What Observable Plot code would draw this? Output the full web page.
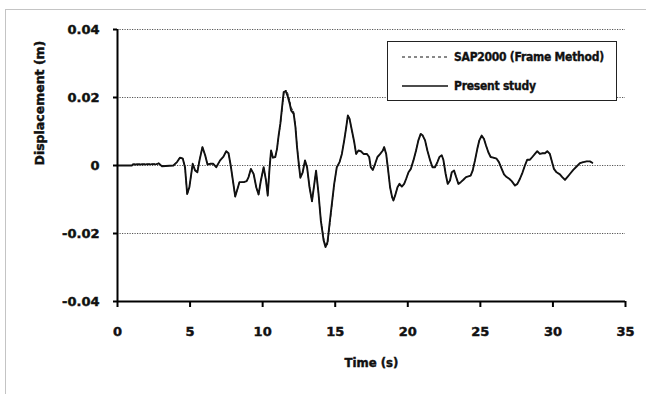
<!DOCTYPE html>
<html>
<head>
<meta charset="utf-8">
<script src="https://cdn.jsdelivr.net/npm/d3@7"></script>
<script src="https://cdn.jsdelivr.net/npm/@observablehq/plot@0.6"></script>
<style>
  html, body { margin: 0; padding: 0; background: #fff; }
  #wrap { position: relative; width: 646px; height: 394px; overflow: hidden; }
  #frame { position: absolute; left: 5px; top: 9px; right: -2px; bottom: -2px; border-top: 1px solid #c4c4c4; border-left: 1px solid #c4c4c4; }
  #chart { position: absolute; left: 0; top: 0; }
  #chart svg text { stroke: #111; stroke-width: 0.45px; }
  #legend { position: absolute; left: 387px; top: 41px; width: 228px; height: 58px; border: 1.5px solid #222; background: #fff;
            font-family: "DejaVu Sans Condensed", "DejaVu Sans", sans-serif; font-weight: bold; font-size: 12px; color: #111; letter-spacing: -0.25px;
            -webkit-text-stroke: 0.35px #111; }
  .row { position: absolute; left: 14px; height: 16px; display: flex; align-items: center; }
  .row svg { margin-right: 6px; }
</style>
</head>
<body>
<div id="wrap">
  <div id="frame"></div>
  <div id="chart"></div>
  <div id="legend">
    <div class="row" style="top:7px"><svg width="46" height="6"><line x1="0" y1="3" x2="46" y2="3" stroke="#111" stroke-width="1" stroke-dasharray="3,3"/></svg><span id="lg1"></span></div>
    <div class="row" style="top:36px"><svg width="46" height="6"><line x1="0" y1="3" x2="46" y2="3" stroke="#111" stroke-width="1.3"/></svg><span id="lg2"></span></div>
  </div>
</div>
<script>
const seriesNames = ["SAP2000 (Frame Method)", "Present study"];
const xTicks = [0, 5, 10, 15, 20, 25, 30, 35];
const yTicks = [-0.04, -0.02, 0, 0.02, 0.04];
const gridValues = [-0.02, 0, 0.02, 0.04];

const time = [
  0, 1.0, 1.05, 2.7, 2.85, 3.05, 3.85, 4.1, 4.3, 4.5,
  4.65, 4.8, 4.95, 5.18, 5.35, 5.5, 5.65, 5.85, 6.04, 6.2,
  6.38, 6.6, 6.8, 7.07, 7.3, 7.49, 7.65, 7.8, 7.95, 8.11,
  8.3, 8.4, 8.7, 8.9, 9.03, 9.19, 9.38, 9.56, 9.72, 9.88,
  10.07, 10.23, 10.35, 10.48, 10.58, 10.71, 10.87, 10.99, 11.1, 11.22,
  11.34, 11.45, 11.59, 11.73, 11.87, 11.96, 12.14, 12.26, 12.37, 12.49,
  12.6, 12.76, 12.92, 13.06, 13.23, 13.4, 13.56, 13.68, 13.85, 14.01,
  14.2, 14.33, 14.47, 14.61, 14.77, 14.93, 15.11, 15.3, 15.46, 15.62,
  15.76, 15.87, 15.99, 16.15, 16.31, 16.44, 16.6, 16.77, 16.95, 17.18,
  17.34, 17.45, 17.59, 17.75, 17.91, 18.1, 18.28, 18.37, 18.51, 18.65,
  18.78, 18.92, 19.01, 19.13, 19.29, 19.43, 19.59, 19.75, 19.89, 20.05,
  20.21, 20.39, 20.57, 20.73, 20.89, 21.03, 21.19, 21.35, 21.54, 21.7,
  21.88, 22.04, 22.18, 22.34, 22.45, 22.61, 22.75, 22.91, 23.03, 23.19,
  23.33, 23.49, 23.65, 23.83, 24.01, 24.17, 24.33, 24.47, 24.63, 24.79,
  24.93, 25.09, 25.25, 25.39, 25.55, 25.71, 25.89, 26.12, 26.28, 26.47,
  26.63, 26.81, 26.99, 27.16, 27.39, 27.55, 27.73, 27.91, 28.07, 28.23,
  28.42, 28.58, 28.76, 28.92, 29.1, 29.29, 29.45, 29.61, 29.79, 29.91,
  30.07, 30.25, 30.48, 30.64, 30.83, 30.99, 31.17, 31.4, 31.63, 31.86,
  32.09, 32.32, 32.55, 32.71
];

const presentStudy = [
  0, 0, 0.0003, 0.0004, 0.0006, -0.0002, 0, 0.001, 0.0023, 0.002,
  -0.0005, -0.0083, -0.0064, 0.0005, -0.0015, -0.002, 0.0015, 0.0054, 0.003, 0.0003,
  0.0005, 0.0005, -0.0005, 0.0015, 0.0026, 0.0042, 0.0036, 0, -0.0044, -0.0091,
  -0.0064, -0.0049, -0.0049, -0.0046, -0.0034, -0.001, -0.0025, -0.0064, -0.0085, -0.0044,
  -0.0005, -0.0044, -0.0088, -0.0005, 0.0044, 0.0023, 0.0025, 0.0049, 0.0088, 0.0123,
  0.0172, 0.0216, 0.0219, 0.0203, 0.0181, 0.0162, 0.0152, 0.0113, 0.0054, 0.0005,
  -0.0036, -0.002, 0.0015, -0.0005, -0.0064, -0.0105, -0.0054, -0.0015, -0.0083, -0.0162,
  -0.022, -0.024, -0.0225, -0.0172, -0.0113, -0.0054, -0.0005, 0.001, 0.0034, 0.0074,
  0.0113, 0.0147, 0.0137, 0.0103, 0.0069, 0.0034, 0.0044, 0.0042, 0.0034, 0.0034,
  0.0025, -0.0005, -0.0013, 0.0005, 0.0025, 0.0034, 0.0044, 0.0054, 0.0034, -0.0015,
  -0.0064, -0.0093, -0.0103, -0.0088, -0.0064, -0.0054, -0.0062, -0.0054, -0.0039, -0.002,
  -0.001, 0.0015, 0.0044, 0.0074, 0.0093, 0.0088, 0.0074, 0.0044, 0.0015, -0.0005,
  -0.0005, 0.001, 0.0025, 0.003, 0.0017, -0.0025, -0.0054, -0.0044, -0.002, -0.0015,
  -0.0034, -0.0054, -0.0049, -0.0042, -0.0034, -0.0032, -0.003, -0.0015, 0.0015, 0.0049,
  0.0074, 0.0088, 0.0078, 0.0059, 0.0039, 0.0025, 0.0023, 0.002, 0.001, -0.001,
  -0.0026, -0.0034, -0.0039, -0.0046, -0.0059, -0.0054, -0.0039, -0.002, 0, 0.0017,
  0.0017, 0.0025, 0.0034, 0.0042, 0.0034, 0.0036, 0.0036, 0.0042, 0.0034, 0.0015,
  -0.001, -0.002, -0.0026, -0.0034, -0.0042, -0.0034, -0.0025, -0.0013, -0.0003, 0.0007,
  0.001, 0.0012, 0.0012, 0.0008
];

const sap2000 = [
  0, 0, 0.0004, 0.0005, 0.0007, -0.0001, 0, 0.0011, 0.0024, 0.0021,
  -0.0004, -0.0087, -0.0066, 0.0005, -0.0015, -0.002, 0.0015, 0.0055, 0.003, 0.0003,
  0.0005, 0.0005, -0.0005, 0.0015, 0.0026, 0.0043, 0.0036, 0, -0.0045, -0.0093,
  -0.0064, -0.0049, -0.0049, -0.0046, -0.0034, -0.001, -0.0025, -0.0064, -0.0087, -0.0044,
  -0.0005, -0.0044, -0.009, -0.0005, 0.0045, 0.0023, 0.0025, 0.0049, 0.0086, 0.0119,
  0.0165, 0.0208, 0.0222, 0.0212, 0.019, 0.0171, 0.0158, 0.0118, 0.0058, 0.0007,
  -0.0036, -0.002, 0.0015, -0.0005, -0.0064, -0.0107, -0.0054, -0.0015, -0.0083, -0.0158,
  -0.0213, -0.0236, -0.0233, -0.018, -0.0118, -0.0056, -0.0005, 0.001, 0.0034, 0.0074,
  0.0113, 0.0148, 0.0138, 0.0103, 0.0069, 0.0034, 0.0044, 0.0042, 0.0034, 0.0034,
  0.0025, -0.0005, -0.0013, 0.0005, 0.0025, 0.0034, 0.0044, 0.0055, 0.0034, -0.0015,
  -0.0064, -0.0094, -0.0104, -0.0088, -0.0064, -0.0054, -0.0062, -0.0054, -0.0039, -0.002,
  -0.001, 0.0015, 0.0044, 0.0074, 0.0094, 0.0089, 0.0074, 0.0044, 0.0015, -0.0005,
  -0.0005, 0.001, 0.0025, 0.003, 0.0017, -0.0025, -0.0055, -0.0044, -0.002, -0.0015,
  -0.0034, -0.0055, -0.0049, -0.0042, -0.0034, -0.0032, -0.003, -0.0015, 0.0015, 0.0049,
  0.0074, 0.0089, 0.0079, 0.0059, 0.0039, 0.0025, 0.0023, 0.002, 0.001, -0.001,
  -0.0026, -0.0034, -0.0039, -0.0046, -0.006, -0.0054, -0.0039, -0.002, 0, 0.0017,
  0.0017, 0.0025, 0.0034, 0.0042, 0.0034, 0.0036, 0.0036, 0.0042, 0.0034, 0.0015,
  -0.001, -0.002, -0.0026, -0.0034, -0.0043, -0.0034, -0.0025, -0.0013, -0.0003, 0.0007,
  0.001, 0.0012, 0.0012, 0.0008
];

const presentData = time.map((t, i) => ({t, v: presentStudy[i]}));
const sapData = time.map((t, i) => ({t, v: sap2000[i]}));

document.getElementById("lg1").textContent = seriesNames[0];
document.getElementById("lg2").textContent = seriesNames[1];

const tickFont = {fontFamily: "DejaVu Sans", fontWeight: "bold", fontSize: 13, fill: "#111"};

const chart = Plot.plot({
  width: 646,
  height: 394,
  marginLeft: 117,
  marginRight: 21,
  marginTop: 29,
  marginBottom: 93,
  style: {background: "transparent", fontFamily: "DejaVu Sans", fontWeight: "bold", fontSize: "13px", color: "#111", overflow: "visible"},
  x: {domain: [0, 35]},
  y: {domain: [-0.04, 0.04]},
  marks: [
    Plot.ruleY(gridValues, {x1: 0, x2: 35, stroke: "#555", strokeWidth: 1, strokeDasharray: "1.2,1.3"}),
    Plot.line(sapData, {x: "t", y: "v", stroke: "#111", strokeWidth: 1, strokeDasharray: "3,2"}),
    Plot.line(presentData, {x: "t", y: "v", stroke: "#111", strokeWidth: 1.9, strokeLinejoin: "round"}),
    Plot.ruleX([0], {y1: -0.04, y2: 0.04, stroke: "#000", strokeWidth: 2}),
    Plot.ruleY([-0.04], {x1: 0, x2: 35, stroke: "#000", strokeWidth: 2}),
    Plot.axisX({ticks: xTicks, tickSize: 6, tickPadding: 19, strokeWidth: 2, stroke: "#000", label: null, tickFormat: d => String(d), ...tickFont}),
    Plot.axisY({ticks: yTicks, tickSize: 4, tickPadding: 14, strokeWidth: 2, stroke: "#000", label: null, tickFormat: d => String(d), ...tickFont}),
    Plot.text(["Time (s)"], {frameAnchor: "bottom", dy: 65, text: d => d, fontFamily: "DejaVu Sans Condensed", fontWeight: "bold", fontSize: 13, fill: "#111"}),
    Plot.text(["Displacement (m)"], {frameAnchor: "left", dx: -78, rotate: -90, text: d => d, fontFamily: "DejaVu Sans", fontWeight: "bold", fontSize: 12.5, fill: "#111", style: "letter-spacing:0.3px"})
  ]
});
document.getElementById("chart").appendChild(chart);
</script>
</body>
</html>
